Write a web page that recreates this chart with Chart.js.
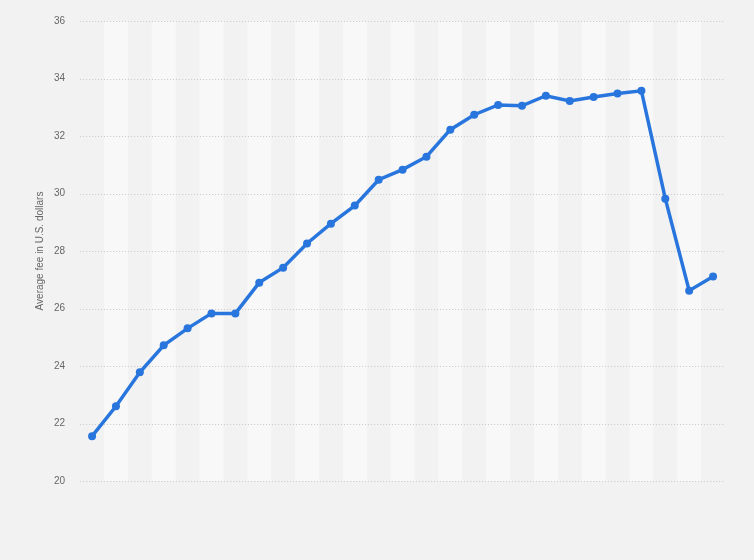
<!DOCTYPE html>
<html>
<head>
<meta charset="utf-8">
<script src="https://cdn.jsdelivr.net/npm/chart.js@4/dist/chart.umd.min.js"></script>
<style>
  html, body { margin: 0; padding: 0; background: #f2f2f2; }
  #wrap { width: 754px; height: 560px; }
</style>
</head>
<body>
<div id="wrap"><canvas id="chart" width="754" height="560"></canvas></div>
<script>
// data (no x labels shown in the reference)
const categories = ['1', '2', '3', '4', '5', '6', '7', '8', '9', '10', '11', '12', '13', '14',
    '15', '16', '17', '18', '19', '20', '21', '22', '23', '24', '25', '26', '27'];
const avgFee = [21.56, 22.6, 23.78, 24.72, 25.31, 25.83, 25.83, 26.9, 27.42, 28.26, 28.95, 29.58,
    30.48, 30.83, 31.28, 32.22, 32.74, 33.08, 33.05, 33.4, 33.22, 33.36, 33.48, 33.57,
    29.82, 26.62, 27.11];
const yTicks = [20, 22, 24, 26, 28, 30, 32, 34, 36];
const yTitle = 'Average fee in U.S. dollars';

// striped columns behind the line
const columnBands = {
    id: 'columnBands',
    beforeDatasetsDraw(chart) {
        const ctx = chart.ctx;
        const area = chart.chartArea;
        const x = chart.scales.x;
        ctx.save();
        ctx.fillStyle = '#f8f8f8';
        for (let i = 1; i < categories.length; i += 2) {
            const left = x.getPixelForValue(i - 0.5);
            const right = x.getPixelForValue(i + 0.5);
            ctx.fillRect(left, area.top, right - left, area.bottom - area.top);
        }
        ctx.restore();
    }
};

// dotted grid on top of the bands
const dottedGrid = {
    id: 'dottedGrid',
    beforeDatasetsDraw(chart) {
        const ctx = chart.ctx;
        const area = chart.chartArea;
        const y = chart.scales.y;
        ctx.save();
        ctx.strokeStyle = '#c8c8c8';
        ctx.lineWidth = 1;
        ctx.setLineDash([1, 2]);
        yTicks.forEach(v => {
            const py = Math.round(y.getPixelForValue(v)) + 0.5;
            ctx.beginPath();
            ctx.moveTo(area.left, py);
            ctx.lineTo(area.right, py);
            ctx.stroke();
        });
        ctx.restore();
    }
};

// rotated axis title, placed by hand
const axisTitle = {
    id: 'axisTitle',
    afterDraw(chart) {
        const ctx = chart.ctx;
        const area = chart.chartArea;
        ctx.save();
        ctx.translate(40, (area.top + area.bottom) / 2);
        ctx.rotate(-Math.PI / 2);
        ctx.fillStyle = '#666666';
        ctx.font = '10px Arial, "Liberation Sans"';
        ctx.textAlign = 'center';
        ctx.textBaseline = 'middle';
        ctx.fillText(yTitle, 0, 0);
        ctx.restore();
    }
};

new Chart(document.getElementById('chart'), {
    type: 'line',
    data: {
        labels: categories,
        datasets: [{
            data: avgFee,
            borderColor: '#2876dd',
            backgroundColor: '#2876dd',
            borderWidth: 3.5,
            pointRadius: 4,
            pointBorderWidth: 0,
            pointBackgroundColor: '#2876dd',
            tension: 0,
            fill: false
        }]
    },
    options: {
        responsive: false,
        animation: false,
        layout: { padding: { top: 14, right: 29, bottom: 79, left: 39 } },
        plugins: {
            legend: { display: false },
            tooltip: { enabled: false }
        },
        scales: {
            x: {
                display: false,
                offset: true
            },
            y: {
                min: 20,
                max: 36,
                afterBuildTicks(scale) {
                    scale.ticks = yTicks.map(v => ({ value: v }));
                },
                grid: { display: false, drawTicks: false },
                border: { display: false },
                ticks: {
                    color: '#666666',
                    padding: 15,
                    font: { family: 'Arial, "Liberation Sans"', size: 10 }
                }
            }
        }
    },
    plugins: [columnBands, dottedGrid, axisTitle]
});
</script>
</body>
</html>
